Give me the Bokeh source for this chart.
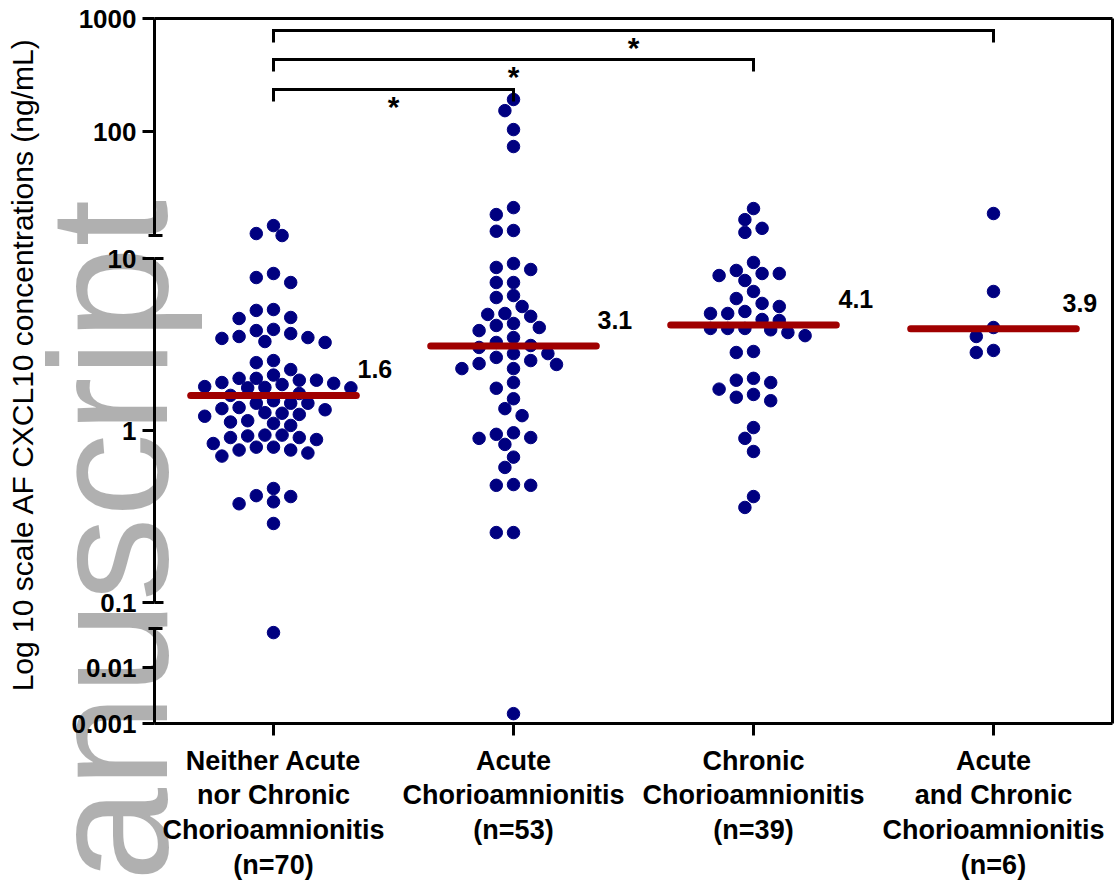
import math
from bokeh.plotting import figure
from bokeh.models import Range1d, FixedTicker, LogAxis, LinearAxis, Label, LogScale
from bokeh.embed import file_html
from bokeh.resources import INLINE
from bokeh.core.properties import value

# ---------------- data ----------------
categories = [
    "Neither Acute\nnor Chronic\nChorioamnionitis\n(n=70)",
    "Acute\nChorioamnionitis\n(n=53)",
    "Chronic\nChorioamnionitis\n(n=39)",
    "Acute\nand Chronic\nChorioamnionitis\n(n=6)",
]
neither = [14.7, 12.0, 12.5,
           7.75, 7.25, 8.18,
           4.99, 4.48, 4.54, 5.05,
           3.87, 3.66, 3.47, 3.29, 3.25, 3.43, 3.52, 3.81,
           2.48, 2.55, 2.26,
           1.88, 1.80, 1.77, 2.01, 1.96, 1.96, 2.01, 2.10, 1.78, 1.77, 1.85, 1.90,
           1.64, 1.49, 1.60,
           1.44, 1.44, 1.44,
           1.34, 1.27, 1.24, 1.21, 1.26, 1.32, 1.36,
           1.14, 1.10, 1.07, 1.12,
           0.886, 0.94, 0.93, 0.91, 0.91, 0.94, 0.84,
           0.80, 0.77, 0.74, 0.71, 0.77, 0.80,
           0.46, 0.413, 0.375, 0.385, 0.418,
           0.288,
           0.042]
acute = [192, 153, 104, 73.6, 21.2, 18.4, 13.3, 13.1,
         8.87, 9.35, 8.63, 7.25, 7.25, 6.09, 5.93, 5.26, 4.73, 4.19, 3.97, 3.81,
         4.08, 4.61, 4.79, 3.47, 3.25, 3.04, 3.12,
         2.80, 2.66, 2.45, 2.29, 2.29, 2.42, 2.55, 2.80,
         1.90, 1.76, 1.53, 1.34, 1.22,
         0.97, 0.91, 0.83, 0.90, 0.95,
         0.70, 0.61,
         0.485, 0.48, 0.48,
         0.255, 0.255,
         0.0015]
chronic = [20.8, 16.6, 12.8, 13.9,
           9.48, 7.96, 8.18, 8.18, 7.45, 8.52, 6.43, 5.85, 5.26, 5.48,
           4.79, 4.79, 4.92, 4.42, 4.36,
           3.92, 3.92, 3.71, 3.56, 3.92, 3.85,
           2.88, 2.84, 2.01, 1.90, 1.96, 1.74, 1.56, 1.49, 1.62,
           1.04, 0.90, 0.755, 0.413, 0.357]
both = [18.8, 6.43, 3.97, 3.52, 2.84, 2.92]
groups = [neither, acute, chronic, both]
medians = [1.6, 3.1, 4.1, 3.9]
median_text = ["1.6", "3.1", "4.1", "3.9"]
comparisons = [(1, 4), (1, 3), (1, 2)]
comparison_marks = ["*", "*", "*"]
top_ticks = [100, 1000]
mid_ticks = [0.1, 1, 10]
bot_ticks = [0.001, 0.01]
tick_text = {1000: "1000", 100: "100", 10: "10", 1: "1",
             0.1: "0.1", 0.01: "0.01", 0.001: "0.001"}
y_title = "Log 10 scale AF CXCL10 concentrations (ng/mL)"
watermark = "anuscript"

# ---------------- layout (page pixels) ----------------
W = 1117
H = 886
AXIS_X, BORDER_X = 154, 1112
FRAME_TOP, FRAME_BOTTOM = 18, 723
DX = 240.0                       # px per category
X_START = 1 - 273 / DX
X_END = X_START + W / DX

# three segments of the broken log axis, each its own log scale
SEG = {
    "top": dict(aval=1000.0, apx=18, k=113.0, bounds=(12, 1000),
                ticks=top_ticks, minor=[12], cap_in=8, cap_out=6),
    "mid": dict(aval=10.0, apx=258, k=172.0, bounds=(0.1, 10),
                ticks=mid_ticks, minor=[0.1, 10], cap_in=9, cap_out=0),
    "bot": dict(aval=0.001, apx=723, k=56.0, bounds=(0.001, 0.05),
                ticks=bot_ticks, minor=[0.05], cap_in=8, cap_out=6),
}
RNAME = {"top": "top", "mid": "default", "bot": "bot"}


def px_to_val(seg, ypx):
    s = SEG[seg]
    return 10 ** (math.log10(s["aval"]) + (s["apx"] - ypx) / s["k"])


def val_to_px(seg, v):
    s = SEG[seg]
    return s["apx"] - (math.log10(v) - math.log10(s["aval"])) * s["k"]


def seg_of(v):
    if v >= 10.5:
        return "top"
    if v >= 0.09:
        return "mid"
    return "bot"


def data_x(px):
    return X_START + px / DX


# beeswarm layout: greedy, nearest free slot to the category centre
HALF = 8.6
DMIN = 12.5


def swarm(vals, center):
    pts = sorted((val_to_px(seg_of(v), v), v) for v in vals)
    placed = []
    out = []
    cands = [0] + [s * j for j in range(1, 60) for s in (-1, 1)]
    for ypx, v in pts:
        xo = 0.0
        for c in cands:
            xo = c * HALF
            if all((xo - px) ** 2 + (ypx - py) ** 2 >= DMIN ** 2 for px, py in placed):
                break
        placed.append((xo, ypx))
        out.append((center + xo / DX, v))
    return out


points = []
for gi, vals in enumerate(groups):
    points.extend(swarm(vals, gi + 1))

FONT = "Liberation Sans"
GFONT = value(FONT)

p = figure(width=W, height=H, x_range=Range1d(X_START, X_END),
           y_range=Range1d(px_to_val("mid", H), px_to_val("mid", 0)), y_axis_type="log",
           x_axis_location=None, y_axis_location=None, toolbar_location=None,
           output_backend="svg", min_border=0, min_border_left=0, min_border_right=0,
           min_border_top=0, min_border_bottom=0)
p.extra_y_ranges = {"top": Range1d(px_to_val("top", H), px_to_val("top", 0)),
                    "bot": Range1d(px_to_val("bot", H), px_to_val("bot", 0))}
p.extra_y_scales = {"top": LogScale(), "bot": LogScale()}
p.outline_line_color = None
p.grid.visible = False
p.background_fill_color = "white"
p.border_fill_color = "white"

# watermark (behind everything visually: translucent black) and y title
p.add_layout(Label(x=data_x(108), y=px_to_val("mid", 881), text=watermark,
                   angle=math.pi / 2, text_align="left", text_baseline="alphabetic",
                   text_font=FONT, text_font_size="168px", text_color="black",
                   text_alpha=0.31))
p.add_layout(Label(x=data_x(22), y=px_to_val("mid", 364), text=y_title,
                   angle=math.pi / 2, text_align="center", text_baseline="alphabetic",
                   text_font=FONT, text_font_size="30px", text_color="black"))

# broken y axis: one fixed axis per segment
for seg, s in SEG.items():
    ax = LogAxis(y_range_name=RNAME[seg], bounds=s["bounds"], fixed_location=data_x(AXIS_X),
                 ticker=FixedTicker(ticks=s["ticks"], minor_ticks=s["minor"]),
                 major_label_overrides={t: tick_text[t] for t in s["ticks"]})
    ax.axis_line_width = 3
    ax.axis_line_color = "black"
    ax.major_tick_line_width = 3
    ax.major_tick_line_color = "black"
    ax.major_tick_out = 12
    ax.major_tick_in = 0
    ax.minor_tick_line_width = 3
    ax.minor_tick_line_color = "black"
    ax.minor_tick_in = s["cap_in"]
    ax.minor_tick_out = s["cap_out"]
    ax.major_label_standoff = 6
    ax.major_label_text_font = FONT
    ax.major_label_text_font_style = "bold"
    ax.major_label_text_font_size = "26px"
    ax.major_label_text_color = "black"
    p.add_layout(ax, "left")


def bare_axis(cls, **kw):
    a = cls(ticker=FixedTicker(ticks=[]), **kw)
    a.axis_line_width = 3
    a.axis_line_color = "black"
    a.major_tick_out = 0
    a.major_tick_in = 0
    a.minor_tick_out = 0
    a.minor_tick_in = 0
    a.major_label_standoff = 0
    return a


# right and top sides of the frame
p.add_layout(bare_axis(LogAxis, fixed_location=data_x(BORDER_X),
                       bounds=(px_to_val("mid", FRAME_BOTTOM), px_to_val("mid", FRAME_TOP))),
             "right")
p.add_layout(bare_axis(LinearAxis, fixed_location=px_to_val("mid", FRAME_TOP),
                       bounds=(data_x(AXIS_X), data_x(BORDER_X))), "above")

# dots
for seg in SEG:
    sel = [(x, v) for x, v in points if seg_of(v) == seg]
    if sel:
        p.scatter(x=[a for a, _ in sel], y=[b for _, b in sel], size=12.5,
                  fill_color="#000080", line_color="#000080", y_range_name=RNAME[seg])

# significance brackets
bracket_px = [30, 59, 89]
for (a, b), lvl, mark in zip(comparisons, bracket_px, comparison_marks):
    yl = px_to_val("top", lvl)
    yd = px_to_val("top", lvl + 12)
    p.line(x=[a, a, b, b], y=[yd, yl, yl, yd], line_width=3, line_color="black",
           line_join="miter", y_range_name="top")
    p.text(x=[(a + b) / 2], y=[px_to_val("top", lvl + 17)], text=[mark],
           text_font=GFONT, text_font_style="bold", text_font_size="30px",
           text_align="center", text_baseline="alphabetic", text_color="black",
           y_range_name="top")

# medians
MED_HALF = 0.345
gx = [i + 1 for i in range(len(medians))]
p.segment(x0=[g - MED_HALF for g in gx], y0=medians, x1=[g + MED_HALF for g in gx],
          y1=medians, line_color="#a00000", line_width=7, line_cap="round")
label_dx_px = [84, 84, 85, 69]
p.text(x=[g + d / DX for g, d in zip(gx, label_dx_px)],
       y=[px_to_val("mid", val_to_px("mid", m) - 26) for m in medians],
       text=median_text, text_font=GFONT, text_font_style="bold",
       text_font_size="25px", text_align="left", text_baseline="alphabetic",
       text_color="black")

# category axis
xa = LinearAxis(ticker=FixedTicker(ticks=gx), fixed_location=px_to_val("mid", FRAME_BOTTOM),
                bounds=(data_x(AXIS_X), data_x(BORDER_X)),
                major_label_overrides={g: c for g, c in zip(gx, categories)})
xa.axis_line_width = 3
xa.axis_line_color = "black"
xa.major_tick_line_width = 3
xa.major_tick_line_color = "black"
xa.major_tick_out = 12
xa.major_tick_in = 0
xa.minor_tick_line_color = None
xa.major_label_standoff = 10
xa.major_label_text_font = FONT
xa.major_label_text_font_style = "bold"
xa.major_label_text_font_size = "27px"
xa.major_label_text_line_height = 1.16
xa.major_label_text_color = "black"
p.add_layout(xa, "below")

open("out.html", "w").write(file_html(p, INLINE))
